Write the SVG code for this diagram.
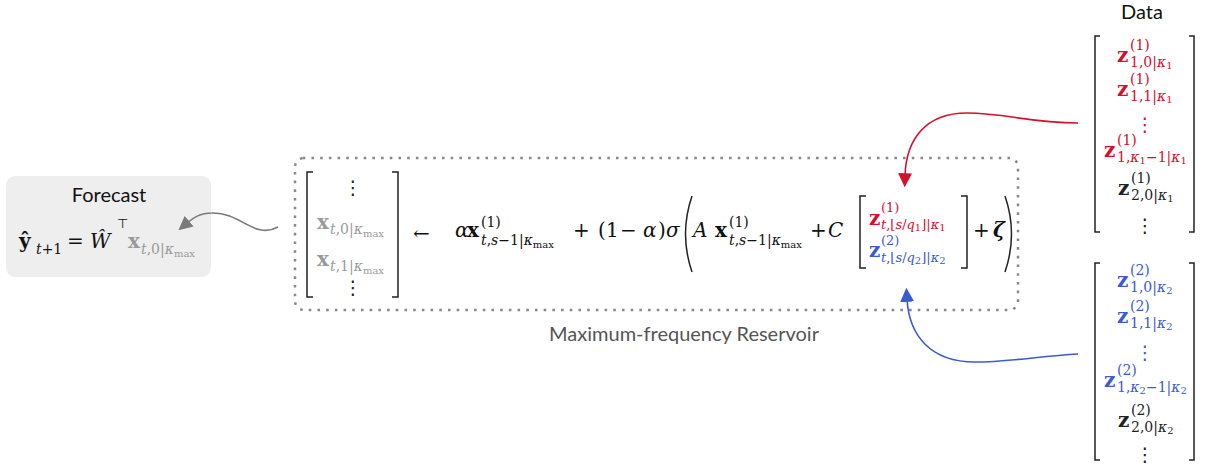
<svg xmlns="http://www.w3.org/2000/svg" width="1214" height="464" viewBox="0 0 1214 464">
<style>
.sans{font-family:Lato,"Open Sans","Liberation Sans",sans-serif;font-size:20px;fill:#111}
.m{font-family:"DejaVu Serif","Liberation Serif",serif;font-size:20px;fill:#111}
.i{font-style:italic}
.b{font-weight:bold}
.s{font-size:14px}
.s13{font-size:13px}
.ss{font-size:10px}
.g{fill:#9a9a9a}
.r{fill:#d4102c}
.u{fill:#3a5ccc}
.k{fill:#222}
.vd{font-family:"DejaVu Sans",sans-serif;font-size:19px;text-anchor:middle}
.br{fill:none;stroke:#222;stroke-width:1.5}
.conn{fill:none;stroke-width:1.6}
</style>
<defs>
<marker id="ag" viewBox="0 0 10 10" refX="2" refY="5" markerWidth="14" markerHeight="14" markerUnits="userSpaceOnUse" orient="auto"><path d="M0 0 L10 5 L0 10 z" fill="#7a7a7a"/></marker>
<marker id="ar" viewBox="0 0 10 10" refX="2" refY="5" markerWidth="14" markerHeight="14" markerUnits="userSpaceOnUse" orient="auto"><path d="M0 0 L10 5 L0 10 z" fill="#d4102c"/></marker>
<marker id="ab" viewBox="0 0 10 10" refX="2" refY="5" markerWidth="14" markerHeight="14" markerUnits="userSpaceOnUse" orient="auto"><path d="M0 0 L10 5 L0 10 z" fill="#3a5ccc"/></marker>
</defs>

<g id="forecast">
<rect x="6" y="176" width="205" height="101" rx="9" fill="#eeeeee"/>
<text class="sans" x="109" y="202" text-anchor="middle">Forecast</text>
<text class="m b" x="19" y="248" font-size="25">ŷ</text>
<text class="m s" x="36" y="254"><tspan class="i">t</tspan>+1</text>
<text class="m" x="67" y="248" font-size="22">=</text>
<text class="m i" x="90" y="248" font-size="22">Ŵ</text>
<text x="117" y="228" style="font-family:'DejaVu Sans',sans-serif;font-size:13px;fill:#111">⊤</text>
<text class="m b g" x="128" y="248">x</text>
<text class="m s g" x="141" y="254"><tspan class="i">t</tspan>,0|<tspan class="i">κ</tspan><tspan class="ss" dy="3">max</tspan></text>
</g>

<g id="reservoir">
<rect x="295" y="158" width="723" height="152" rx="9" fill="none" stroke="#888" stroke-width="2.5" stroke-dasharray="0.1 8.6" stroke-linecap="square"/>
<text class="sans" x="684" y="341" text-anchor="middle" style="fill:#555">Maximum-frequency Reservoir</text>
<path class="br" d="M313 172 H307 V297 H313"/>
<path class="br" d="M392 172 H398 V297 H392"/>
<text class="vd k" x="353" y="194">⋮</text>
<text class="m b g" x="317" y="229">x</text>
<text class="m s g" x="330" y="234"><tspan class="i">t</tspan>,0|<tspan class="i">κ</tspan><tspan class="ss" dy="3">max</tspan></text>
<text class="m b g" x="317" y="266">x</text>
<text class="m s g" x="330" y="271"><tspan class="i">t</tspan>,1|<tspan class="i">κ</tspan><tspan class="ss" dy="3">max</tspan></text>
<text class="vd k" x="353" y="294">⋮</text>

<text class="m" x="413" y="240" font-size="22">←</text>
<text class="m i" x="455" y="237">α</text>
<text class="m b" x="467" y="237">x</text>
<text class="m s" x="481" y="227">(1)</text>
<text class="m s" x="481" y="245"><tspan class="i">t</tspan>,<tspan class="i">s</tspan>−1|<tspan class="i">κ</tspan><tspan class="ss" dy="3">max</tspan></text>
<text class="m" x="573" y="237">+</text>
<text class="m" x="598" y="237">(</text>
<text class="m" x="606" y="237">1</text>
<text class="m" x="620" y="237">−</text>
<text class="m i" x="643" y="237">α</text>
<text class="m" x="658" y="237">)</text>
<text class="m i" x="666" y="237">σ</text>
<path class="br" d="M692 196 Q679 234 692 272" stroke-width="1.8"/>
<text class="m i" x="693" y="237">A</text>
<text class="m b" x="715" y="237">x</text>
<text class="m s" x="729" y="227">(1)</text>
<text class="m s" x="729" y="245"><tspan class="i">t</tspan>,<tspan class="i">s</tspan>−1|<tspan class="i">κ</tspan><tspan class="ss" dy="3">max</tspan></text>
<text class="m" x="810" y="237">+</text>
<text class="m i" x="828" y="237">C</text>
<path class="br" d="M866 196 H860 V268 H866"/>
<path class="br" d="M961 196 H967 V268 H961"/>
<text class="m b r" x="869" y="225">z</text>
<text class="m s13 r" x="881" y="212">(1)</text>
<text class="m s13 r" x="881" y="229"><tspan class="i">t</tspan>,⌊<tspan class="i">s</tspan>/<tspan class="i">q</tspan><tspan class="ss" dy="2">1</tspan><tspan dy="-2">⌋|</tspan><tspan class="i">κ</tspan><tspan class="ss" dy="2">1</tspan></text>
<text class="m b u" x="869" y="257">z</text>
<text class="m s13 u" x="881" y="245">(2)</text>
<text class="m s13 u" x="881" y="262"><tspan class="i">t</tspan>,⌊<tspan class="i">s</tspan>/<tspan class="i">q</tspan><tspan class="ss" dy="2">2</tspan><tspan dy="-2">⌋|</tspan><tspan class="i">κ</tspan><tspan class="ss" dy="2">2</tspan></text>
<text class="m" x="973" y="237">+</text>
<text class="m b i" x="993" y="237">ζ</text>
<path class="br" d="M1005 196 Q1018 234 1005 272" stroke-width="1.8"/>
</g>

<g id="data">
<text class="sans" x="1142" y="19" text-anchor="middle">Data</text>
<path class="br" d="M1100 36 H1095 V232 H1100"/>
<path class="br" d="M1189 36 H1194 V232 H1189"/>
<text class="m b r" x="1117" y="62">z</text>
<text class="m s r" x="1130" y="50">(1)</text>
<text class="m s r" x="1130" y="67">1,0|<tspan class="i">κ</tspan><tspan class="ss" dy="2">1</tspan></text>
<text class="m b r" x="1117" y="96">z</text>
<text class="m s r" x="1130" y="84">(1)</text>
<text class="m s r" x="1130" y="101">1,1|<tspan class="i">κ</tspan><tspan class="ss" dy="2">1</tspan></text>
<text class="vd r" x="1145" y="131">⋮</text>
<text class="m b r" x="1104" y="157">z</text>
<text class="m s r" x="1117" y="145">(1)</text>
<text class="m s r" x="1117" y="162">1,<tspan class="i">κ</tspan><tspan class="ss" dy="2">1</tspan><tspan dy="-2">−1|</tspan><tspan class="i">κ</tspan><tspan class="ss" dy="2">1</tspan></text>
<text class="m b k" x="1118" y="195">z</text>
<text class="m s k" x="1131" y="183">(1)</text>
<text class="m s k" x="1131" y="200">2,0|<tspan class="i">κ</tspan><tspan class="ss" dy="2">1</tspan></text>
<text class="vd k" x="1145" y="232">⋮</text>
</g>

<g id="data2">
<path class="br" d="M1100 263 H1095 V460 H1100"/>
<path class="br" d="M1189 263 H1194 V460 H1189"/>
<text class="m b u" x="1117" y="287">z</text>
<text class="m s u" x="1130" y="275">(2)</text>
<text class="m s u" x="1130" y="292">1,0|<tspan class="i">κ</tspan><tspan class="ss" dy="2">2</tspan></text>
<text class="m b u" x="1117" y="323">z</text>
<text class="m s u" x="1130" y="311">(2)</text>
<text class="m s u" x="1130" y="328">1,1|<tspan class="i">κ</tspan><tspan class="ss" dy="2">2</tspan></text>
<text class="vd u" x="1145" y="359">⋮</text>
<text class="m b u" x="1104" y="387">z</text>
<text class="m s u" x="1117" y="375">(2)</text>
<text class="m s u" x="1117" y="392">1,<tspan class="i">κ</tspan><tspan class="ss" dy="2">2</tspan><tspan dy="-2">−1|</tspan><tspan class="i">κ</tspan><tspan class="ss" dy="2">2</tspan></text>
<text class="m b k" x="1118" y="427">z</text>
<text class="m s k" x="1131" y="415">(2)</text>
<text class="m s k" x="1131" y="432">2,0|<tspan class="i">κ</tspan><tspan class="ss" dy="2">2</tspan></text>
<text class="vd k" x="1145" y="461">⋮</text>
</g>

<g id="connectors">
<path class="conn" stroke="#7a7a7a" d="M278 227 C255 240 240 212 212 213 C200 213 193 218 187 223" marker-end="url(#ag)"/>
<path class="conn" stroke="#d4102c" d="M1078 123 C1030 123 1005 113 967 113 C925 113 906 140 905 176" marker-end="url(#ar)"/>
<path class="conn" stroke="#3a5ccc" d="M1078 354 C1040 356 1010 362 975 362 C930 362 909 335 907 299" marker-end="url(#ab)"/>
</g>
</svg>
